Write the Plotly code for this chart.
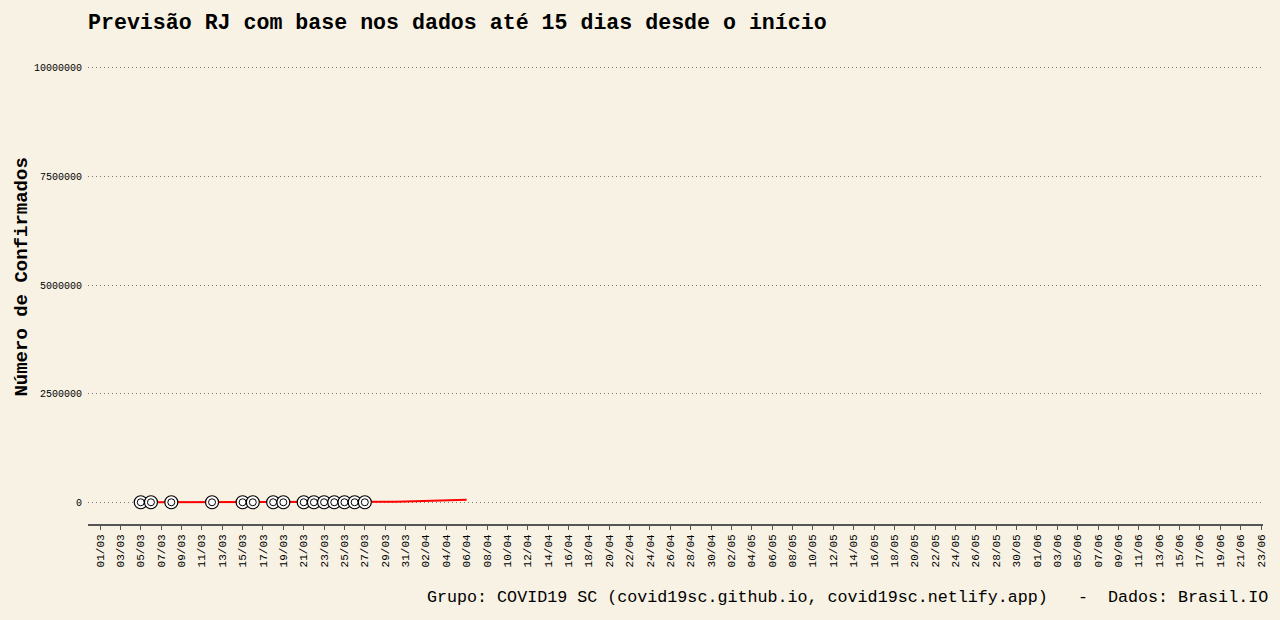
import pandas as pd
import plotly.graph_objects as go

# Observed confirmed cases (RJ)
obs_dates = ["2020-03-05", "2020-03-06", "2020-03-08", "2020-03-12", "2020-03-15",
             "2020-03-16", "2020-03-18", "2020-03-19", "2020-03-21", "2020-03-22",
             "2020-03-23", "2020-03-24", "2020-03-25", "2020-03-26", "2020-03-27"]
obs_cases = [1, 2, 3, 16, 24, 31, 45, 65, 109, 119, 186, 233, 305, 370, 421]

# Fitted / forecast curve (daily, 05/03 to 06/04)
fit_dates = [d.strftime("%Y-%m-%d") for d in pd.date_range("2020-03-05", "2020-04-06")]
fit_cases = [1, 2, 3, 4, 6, 8, 11, 15, 20, 27, 36, 48, 64, 85, 110, 145, 190, 245,
             310, 390, 480, 590, 720, 4000, 9000, 14000, 19000, 25000, 31000, 37000,
             43000, 50000, 57000]

# Axis ticks
x_tick_dates = pd.date_range("2020-03-01", "2020-06-23", freq="2D")
x_tick_labels = [d.strftime("%d/%m") for d in x_tick_dates]
y_tick_vals = [0, 2500000, 5000000, 7500000, 10000000]
y_tick_labels = ["0", "2500000", "5000000", "7500000", "10000000"]

BG = "#F8F2E4"
FONT = "Liberation Mono"

fig = go.Figure()
fig.add_trace(go.Scatter(x=fit_dates, y=fit_cases, mode="lines",
                         line=dict(color="#FF0000", width=2), hoverinfo="skip"))
fig.add_trace(go.Scatter(x=obs_dates, y=obs_cases, mode="markers",
                         marker=dict(symbol="circle", size=13, color="white",
                                     line=dict(color="black", width=1.2))))
fig.add_trace(go.Scatter(x=obs_dates, y=obs_cases, mode="markers",
                         marker=dict(symbol="circle-open", size=7, color="black",
                                     line=dict(color="black", width=1)),
                         hoverinfo="skip"))

fig.update_layout(
    width=1280, height=620,
    paper_bgcolor=BG, plot_bgcolor=BG,
    margin=dict(l=88, r=15, t=46, b=96),
    showlegend=False,
    font=dict(family=FONT, color="#000000"),
    title=dict(text="<b>Previsão RJ com base nos dados até 15 dias desde o início</b>",
               x=88 / 1280, xanchor="left", y=1 - 21 / 620, yanchor="middle",
               font=dict(family=FONT, size=21.6, color="#000000")),
)

fig.update_xaxes(
    type="date",
    range=["2020-02-28 19:40", "2020-06-23 04:40"],
    tickvals=list(x_tick_dates), ticktext=x_tick_labels,
    tickangle=-90, tickfont=dict(family=FONT, size=11, color="#000000"),
    showgrid=False, zeroline=False,
    showline=True, linecolor="#555555", linewidth=2,
    ticks="outside", ticklen=4, tickcolor="#555555", tickwidth=1,
)
fig.update_yaxes(
    range=[-500000, 10500000],
    tickvals=y_tick_vals, ticktext=y_tick_labels,
    tickfont=dict(family=FONT, size=10, color="#000000"),
    ticklabelstandoff=5,
    showgrid=True, gridcolor="#7A7A7A", griddash="1px,3px", gridwidth=1,
    zeroline=False, showline=False, ticks="",
)

fig.add_annotation(text="<b>Número de Confirmados</b>", textangle=-90,
                   xref="paper", yref="paper", x=(21 - 88) / 1177, y=(524 - 277.5) / 478,
                   xanchor="center", yanchor="middle", showarrow=False,
                   font=dict(family=FONT, size=19, color="#000000"))
fig.add_annotation(text="Grupo: COVID19 SC (covid19sc.github.io, covid19sc.netlify.app)   -  Dados: Brasil.IO",
                   xref="paper", yref="paper", x=1.006, y=-73 / 478,
                   xanchor="right", yanchor="middle", showarrow=False,
                   font=dict(family=FONT, size=16.7, color="#000000"))

fig.write_html("out.html")
